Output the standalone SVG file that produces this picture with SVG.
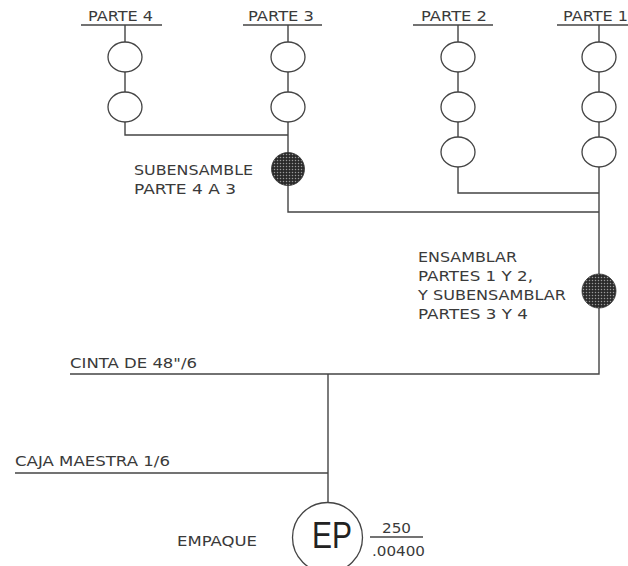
<svg xmlns="http://www.w3.org/2000/svg" width="628" height="566" viewBox="0 0 628 566">
<style>
.ln{stroke:#444;stroke-width:1.4;fill:none}
.op{fill:#fff;stroke:#444;stroke-width:1.3}
.t{font-family:"DejaVu Sans",Verdana,sans-serif;font-size:14px;fill:#3a3a3a}
.ep{font-family:"Liberation Sans",Arial,sans-serif;fill:#222}
</style>
<defs>
<pattern id="dots" width="3" height="3" patternUnits="userSpaceOnUse">
<rect width="3" height="3" fill="#2a2a2a"/>
<circle cx="1.5" cy="1.5" r="0.75" fill="#9a9a9a"/>
</pattern>
</defs>
<rect width="628" height="566" fill="#fff"/>
<g id="connectors">
<path class="ln" d="M81 25H162M243 25H322M413 25H493M557 25H628"/>
<path class="ln" d="M125 25V135H288"/>
<path class="ln" d="M288 25V212H599"/>
<path class="ln" d="M458 25V193H599"/>
<path class="ln" d="M599 25V374H70"/>
<path class="ln" d="M328 374V503"/>
<path class="ln" d="M15 473H328"/>
<path class="ln" d="M370 537H423"/>
</g>
<g id="parte4">
<text class="t" x="88" y="21" textLength="65" lengthAdjust="spacingAndGlyphs">PARTE 4</text>
<ellipse class="op" cx="125" cy="57" rx="17" ry="15"/>
<ellipse class="op" cx="125" cy="107" rx="17" ry="15"/>
</g>
<g id="parte3">
<text class="t" x="248" y="21" textLength="66" lengthAdjust="spacingAndGlyphs">PARTE 3</text>
<ellipse class="op" cx="288" cy="57" rx="17" ry="15"/>
<ellipse class="op" cx="288" cy="107" rx="17" ry="15"/>
</g>
<g id="parte2">
<text class="t" x="421" y="21" textLength="66" lengthAdjust="spacingAndGlyphs">PARTE 2</text>
<ellipse class="op" cx="458" cy="57" rx="17" ry="15"/>
<ellipse class="op" cx="458" cy="107" rx="17" ry="15"/>
<ellipse class="op" cx="458" cy="152" rx="17" ry="15"/>
</g>
<g id="parte1">
<text class="t" x="563" y="21" textLength="65" lengthAdjust="spacingAndGlyphs">PARTE 1</text>
<ellipse class="op" cx="599" cy="57" rx="17" ry="15"/>
<ellipse class="op" cx="599" cy="107" rx="17" ry="15"/>
<ellipse class="op" cx="599" cy="152" rx="17" ry="15"/>
</g>
<g id="subensamble">
<circle cx="288" cy="169" r="16.5" fill="url(#dots)" stroke="#333" stroke-width="0.8"/>
<text class="t" x="134" y="175" textLength="119" lengthAdjust="spacingAndGlyphs">SUBENSAMBLE</text>
<text class="t" x="134" y="194" textLength="102" lengthAdjust="spacingAndGlyphs">PARTE 4 A 3</text>
</g>
<g id="ensamblar">
<circle cx="599" cy="291" r="17" fill="url(#dots)" stroke="#333" stroke-width="0.8"/>
<text class="t" x="418" y="262" textLength="99" lengthAdjust="spacingAndGlyphs">ENSAMBLAR</text>
<text class="t" x="418" y="281" textLength="115" lengthAdjust="spacingAndGlyphs">PARTES 1 Y 2,</text>
<text class="t" x="418" y="300" textLength="148" lengthAdjust="spacingAndGlyphs">Y SUBENSAMBLAR</text>
<text class="t" x="418" y="319" textLength="110" lengthAdjust="spacingAndGlyphs">PARTES 3 Y 4</text>
</g>
<g id="cinta">
<text class="t" x="70" y="368" textLength="127" lengthAdjust="spacingAndGlyphs">CINTA DE 48"/6</text>
</g>
<g id="caja">
<text class="t" x="15" y="466" textLength="155" lengthAdjust="spacingAndGlyphs">CAJA MAESTRA 1/6</text>
</g>
<g id="empaque">
<circle cx="327.5" cy="537.5" r="35" fill="#fff" stroke="#444" stroke-width="1.3"/>
<text class="ep" x="312" y="548" font-size="36" textLength="40" lengthAdjust="spacingAndGlyphs">EP</text>
<text class="t" x="177" y="546" textLength="80" lengthAdjust="spacingAndGlyphs">EMPAQUE</text>
<text class="t" x="382" y="533" textLength="29" lengthAdjust="spacingAndGlyphs">250</text>
<text class="t" x="372" y="556" textLength="53" lengthAdjust="spacingAndGlyphs">.00400</text>
</g>
</svg>
